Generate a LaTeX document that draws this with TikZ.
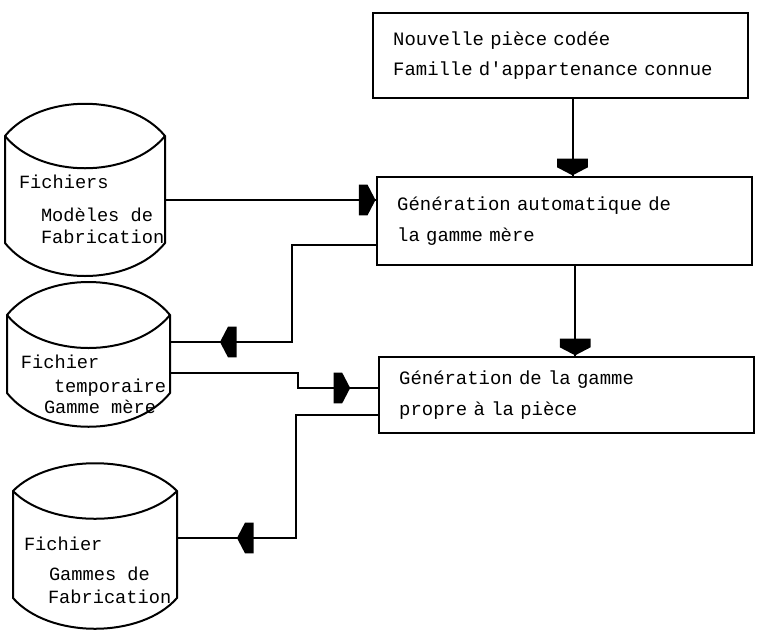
\documentclass[tikz,border=0pt]{standalone}
\usepackage{fontspec}
\newfontfamily\mono[WordSpace={1,0,0}]{Liberation Mono}
\usetikzlibrary{calc}
\usetikzlibrary{decorations.markings}

\tikzset{
  box/.style={draw,align=left,text width=251pt,inner xsep=15pt,
    font=\fontsize{14.2pt}{23pt}\selectfont\mono},
  lbl/.style={anchor=base west,inner sep=0pt,font=\fontsize{14pt}{17pt}\selectfont\mono},
  head at/.style={postaction={decorate,decoration={markings,
    mark=at position #1 with {\fill (0pt,0pt) -- (-6pt,-11.5pt) -- (-12.5pt,-11.5pt)
      -- (-12.5pt,11.5pt) -- (-6pt,11.5pt) -- cycle;}}}}
}

\begin{document}
\begin{tikzpicture}[x=0.75pt,y=-0.75pt,line width=1.5pt]
            \useasboundingbox (0,0) rectangle (760,633);

            \node[box,minimum height=64pt] (piece) at (560.5,55.5)
              {Nouvelle pièce codée\\Famille d\textquotesingle appartenance connue};
            \node[box,minimum height=66pt] (mere) at (564.5,221)
              {Génération automatique de\\la gamme mère};
            \node[box,minimum height=57pt] (propre) at (566.5,395)
              {Génération de la gamme\\propre à la pièce};

            \draw (5,136) -- (5,243) .. controls (40,287) and (130,287) .. (165,243)
              -- (165,136) .. controls (130,93) and (40,93) .. cycle;
            \draw (5,136) .. controls (40,179) and (130,179) .. (165,136);
            \node[lbl] (f1) at (18,188) {Fichiers};
            \node[lbl] (f1a) at (40,221) {Modèles de};
            \node[lbl] (f1b) at (40,243) {Fabrication};

            \draw (7,315) -- (7,393) .. controls (43,438) and (134,438) .. (170,393)
              -- (170,315) .. controls (134,271) and (43,271) .. cycle;
            \draw (7,315) .. controls (43,359) and (134,359) .. (170,315);
            \node[lbl] (f2) at (20,368) {Fichier};
            \node[lbl] (f2a) at (53,392) {temporaire};
            \node[lbl] (f2b) at (43,413) {Gamme mère};

            \draw (13,491) -- (13,598) .. controls (49,639) and (141,639) .. (177,598)
              -- (177,491) .. controls (141,454) and (49,454) .. cycle;
            \draw (13,491) .. controls (49,528) and (141,528) .. (177,491);
            \node[lbl] (f3) at (23,550) {Fichier};
            \node[lbl] (f3a) at (48,580) {Gammes de};
            \node[lbl] (f3b) at (47,603) {Fabrication};

            \coordinate (modeles) at (165,200);
            \coordinate (temp1) at (170,342);
            \coordinate (temp2) at (170,373);
            \coordinate (gammes) at (177,538);

            \draw[head at=-0.5pt] ([xshift=9pt]piece.south) -- ([xshift=9pt]piece.south |- mere.north);
            \draw[head at=-0.5pt] (modeles) -- (modeles -| mere.west);
            \draw[head at=-37.5pt] ($(mere.west)+(0,24)$) -- ++(-84,0) |- (temp1);
            \draw[head at=-0.5pt] ([xshift=8pt]mere.south) -- ([xshift=8pt]mere.south |- propre.north);
            \draw[head at=-21pt] (temp2) -- ++(128,0) |- ($(propre.west)+(0,-7)$);
            \draw[head at=-45pt] ($(propre.west)+(0,20)$) -- ++(-82,0) |- (gammes);

        \end{tikzpicture}
\end{document}
